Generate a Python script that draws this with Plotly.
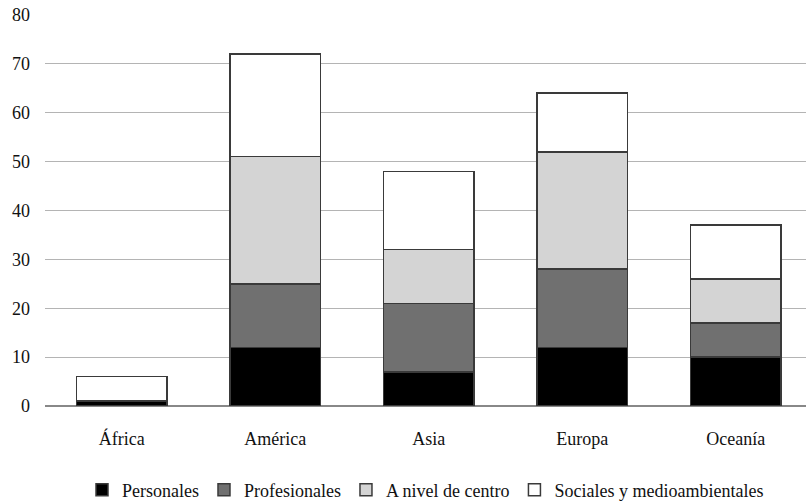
import plotly.graph_objects as go

categories = ["África", "América", "Asia", "Europa", "Oceanía"]
personales = [1, 12, 7, 12, 10]
profesionales = [0, 13, 14, 16, 7]
centro = [0, 26, 11, 24, 9]
sociales = [5, 21, 16, 12, 11]

series = [
    ("Personales", personales, "#000000"),
    ("Profesionales", profesionales, "#707070"),
    ("A nivel de centro", centro, "#d4d4d4"),
    ("Sociales y medioambientales", sociales, "#ffffff"),
]

fig = go.Figure()
for name, vals, color in series:
    fig.add_trace(go.Bar(
        x=categories, y=vals, name=name,
        marker=dict(color=color, line=dict(color="#3a3a3a", width=1.5)),
        width=0.59,
    ))

FONT = "Liberation Serif, DejaVu Serif, serif"
font = dict(family=FONT, size=18, color="#111111")

fig.update_layout(
    barmode="stack",
    width=806, height=504,
    margin=dict(l=45, r=0, t=15, b=98, autoexpand=False),
    paper_bgcolor="white", plot_bgcolor="white",
    font=font,
    showlegend=True,
    legend=dict(orientation="h", x=0.5, xanchor="center", y=-0.215, yanchor="middle",
                font=dict(family=FONT, size=18, color="#111111"),
                itemwidth=30, traceorder="normal", tracegroupgap=0),
    xaxis=dict(range=[-0.5, 4.458], showgrid=False, ticks="", ticklabelstandoff=20,
               showline=False, zeroline=False, automargin=False),
    yaxis=dict(range=[0, 80], dtick=10, showgrid=True, gridcolor="#b4b4b4", gridwidth=1,
               zeroline=True, zerolinecolor="#888888", zerolinewidth=1.5,
               ticks="", ticklabelstandoff=14, showline=False, automargin=False),
)

fig.write_html("out.html",
               config={"displayModeBar": False},
               post_script="document.body.style.margin='0';document.body.style.overflow='hidden';")
